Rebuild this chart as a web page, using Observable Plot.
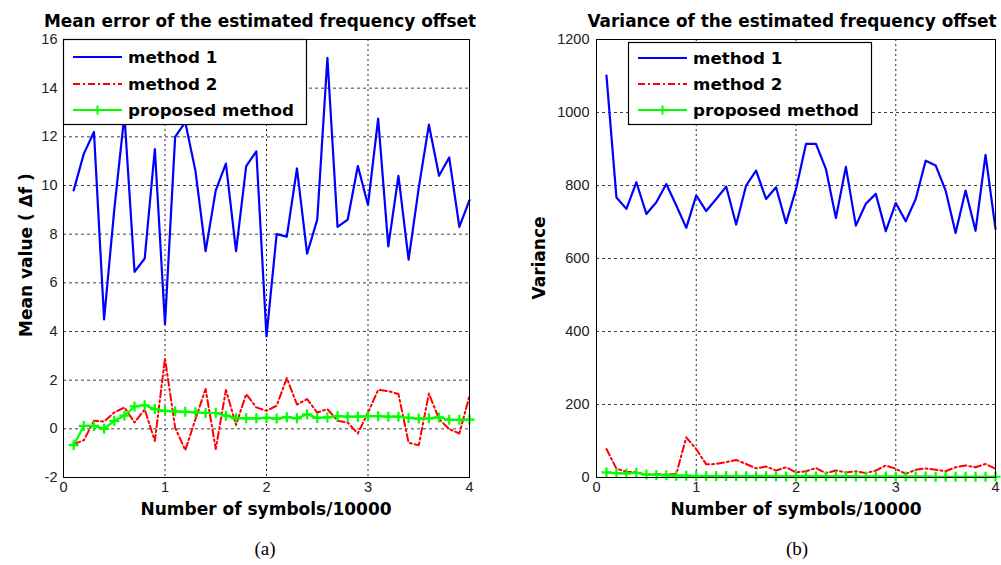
<!DOCTYPE html>
<html><head><meta charset="utf-8">
<script src="https://cdn.jsdelivr.net/npm/d3@7"></script>
<script src="https://cdn.jsdelivr.net/npm/@observablehq/plot@0.6"></script>
<style>
body{margin:0;background:#fff}
#wrap{position:relative;width:1001px;height:565px;overflow:hidden;background:#fff}
</style>
</head><body><div id="wrap"></div>
<script>
// ---- data ----
const symbols = [0.1,0.2,0.3,0.4,0.5,0.6,0.7,0.8,0.9,1.0,1.1,1.2,1.3,1.4,1.5,1.6,1.7,1.8,1.9,2.0,
                 2.1,2.2,2.3,2.4,2.5,2.6,2.7,2.8,2.9,3.0,3.1,3.2,3.3,3.4,3.5,3.6,3.7,3.8,3.9,4.0];
const seriesLabels = ["method 1", "method 2", "proposed method"];
const xTicks = [0, 1, 2, 3, 4];
const meanTicks = [-2, 0, 2, 4, 6, 8, 10, 12, 14, 16];
const varTicks = [0, 200, 400, 600, 800, 1000, 1200];

const meanMethod1 = [9.8,11.3,12.2,4.5,9.0,12.9,6.45,7.0,11.5,4.3,12.0,12.6,10.6,7.3,9.8,10.9,7.3,10.8,11.4,3.8,
                     8.0,7.9,10.7,7.2,8.6,15.25,8.3,8.6,10.8,9.2,12.75,7.5,10.4,6.95,9.9,12.5,10.4,11.15,8.3,9.4];
const meanMethod2 = [-0.63,-0.47,0.33,0.3,0.67,0.88,0.26,0.8,-0.5,2.9,0.05,-0.88,0.4,1.64,-0.83,1.6,0.16,1.43,0.88,0.74,
                     0.95,2.09,1.0,1.22,0.67,0.81,0.33,0.26,-0.19,0.67,1.6,1.55,1.43,-0.57,-0.67,1.45,0.4,-0.01,-0.19,1.36];
const meanProposed = [-0.67,0.12,0.12,0.0,0.33,0.54,0.92,0.97,0.81,0.74,0.72,0.70,0.68,0.65,0.65,0.54,0.44,0.43,0.43,0.45,
                      0.42,0.48,0.43,0.6,0.45,0.47,0.52,0.5,0.5,0.52,0.52,0.5,0.5,0.45,0.42,0.43,0.47,0.37,0.37,0.38];

const varMethod1 = [1101,767,736,809,722,754,804,745,684,773,730,763,797,693,800,841,763,795,697,790,
                    914,914,845,711,851,690,750,777,675,752,702,763,868,855,786,670,786,676,884,681];
const varMethod2 = [78,24,16,14,8,9,8,10,110,78,36,37,42,48,37,25,30,19,28,14,
                    17,26,12,19,14,17,12,19,33,24,10,21,25,21,17,28,33,28,37,24];
const varProposed = [14,12,11,13,8,7,6,5,5,4,4,4,4,4,3.5,3.5,3.5,3.5,3,3,
                     3,3,3,3,3,2.5,2.5,2.5,2.5,2.5,2.5,2.5,2.5,2,2,2,2,2,2,2];

// ---- helpers ----
const rows = ys => symbols.map((x, i) => ({x, y: ys[i]}));
const plus = {draw(ctx, size) { const r = Math.sqrt(size / Math.PI);
  ctx.moveTo(-r, 0); ctx.lineTo(r, 0); ctx.moveTo(0, -r); ctx.lineTo(0, r); }};
const BLUE = "#0000ff", RED = "#ff0000", GREEN = "#00ff00";
const DASHDOT = "7,3,2,3";
const fmt = d => (d < 0 ? "-" + Math.abs(d) : String(d));
const wrap = document.getElementById("wrap");

function panel({left, width, marginLeft, marginRight, yDomain, yTicks, pad, s1, s2, s3}) {
  const svg = Plot.plot({
    width, height: 565, marginLeft, marginRight, marginTop: 39, marginBottom: 88,
    x: {domain: [0, 4]},
    y: {domain: yDomain},
    style: {fontFamily: "'Liberation Sans', Arial, sans-serif", fontSize: "14.5px", color: "#222",
            background: "transparent", overflow: "visible"},
    marks: [
      Plot.gridX(xTicks.slice(1, -1), {stroke: "#000", strokeOpacity: 0.85, strokeDasharray: "2,3"}),
      Plot.gridY(yTicks.slice(1, -1), {stroke: "#000", strokeOpacity: 0.75, strokeDasharray: "3,3"}),
      Plot.axisX(xTicks, {tickSize: 0, tickPadding: 4, label: null, tickFormat: fmt}),
      Plot.axisY(yTicks, {tickSize: 0, tickPadding: pad, label: null, tickFormat: fmt}),
      Plot.line(rows(s1), {x: "x", y: "y", stroke: BLUE, strokeWidth: 2.2}),
      Plot.line(rows(s2), {x: "x", y: "y", stroke: RED, strokeWidth: 2, strokeDasharray: DASHDOT}),
      Plot.line(rows(s3), {x: "x", y: "y", stroke: GREEN, strokeWidth: 2.2}),
      Plot.dot(rows(s3), {x: "x", y: "y", symbol: plus, r: 5, stroke: GREEN, strokeWidth: 2.2}),
      Plot.frame({stroke: "#000"})
    ]
  });
  svg.style.position = "absolute";
  svg.style.left = left + "px";
  svg.style.top = "0px";
  wrap.appendChild(svg);
}

panel({left: 0, width: 500, marginLeft: 63, marginRight: 31, yDomain: [-2, 16], yTicks: meanTicks, pad: 6,
       s1: meanMethod1, s2: meanMethod2, s3: meanProposed});
panel({left: 500, width: 501, marginLeft: 96, marginRight: 6, yDomain: [0, 1200], yTicks: varTicks, pad: 7,
       s1: varMethod1, s2: varMethod2, s3: varProposed});

// ---- overlay: titles, labels, legends, captions ----
const ov = d3.create("svg").attr("width", 1001).attr("height", 565)
  .style("position", "absolute").style("left", "0px").style("top", "0px")
  .style("font-family", "'DejaVu Sans', Verdana, sans-serif");

function txt(x, y, s, {size = 17, weight = "bold", anchor = "middle", rotate = 0, family = null} = {}) {
  const t = ov.append("text").attr("transform", `translate(${x},${y}) rotate(${rotate})`)
    .attr("text-anchor", anchor).attr("dy", "0.35em")
    .attr("font-size", size).attr("font-weight", weight).attr("fill", "#000").text(s);
  if (family) t.attr("font-family", family);
}

txt(260, 21, "Mean error of the estimated frequency offset", {size: 16.9});
txt(792, 21, "Variance of the estimated frequency offset", {size: 16.9});
txt(26, 255, "Mean value ( Δf )", {size: 17, rotate: -90});
txt(539, 258, "Variance", {size: 17, rotate: -90});
txt(266, 509, "Number of symbols/10000", {size: 17});
txt(796, 509, "Number of symbols/10000", {size: 17});
txt(265, 548, "(a)", {size: 19, weight: "normal", family: "'Liberation Serif', 'Times New Roman', serif"});
txt(797, 548, "(b)", {size: 19, weight: "normal", family: "'Liberation Serif', 'Times New Roman', serif"});

const styles = [
  {stroke: BLUE, dash: null, marker: false},
  {stroke: RED, dash: DASHDOT, marker: false},
  {stroke: GREEN, dash: null, marker: true}
];
function legend(x, y, w, h, sx0, sx1, tx, rowYs) {
  ov.append("rect").attr("x", x + 0.5).attr("y", y + 0.5).attr("width", w).attr("height", h)
    .attr("fill", "#fff").attr("stroke", "#000").attr("stroke-width", 1.2);
  seriesLabels.forEach((lab, i) => {
    const st = styles[i], yy = rowYs[i];
    const l = ov.append("line").attr("x1", sx0).attr("x2", sx1).attr("y1", yy).attr("y2", yy)
      .attr("stroke", st.stroke).attr("stroke-width", 2);
    if (st.dash) l.attr("stroke-dasharray", st.dash);
    if (st.marker) {
      const cx = (sx0 + sx1) / 2;
      ov.append("path").attr("d", `M${cx - 4.5},${yy}H${cx + 4.5}M${cx},${yy - 4.5}V${yy + 4.5}`)
        .attr("stroke", st.stroke).attr("stroke-width", 2).attr("fill", "none");
    }
    txt(tx, yy, lab, {size: 16.7, anchor: "start"});
  });
}
legend(63, 39, 243, 85, 73, 122, 128, [57, 84, 110]);
legend(628, 42, 243, 82, 638, 687, 693, [58, 84, 110]);

wrap.appendChild(ov.node());
</script>
</body></html>
